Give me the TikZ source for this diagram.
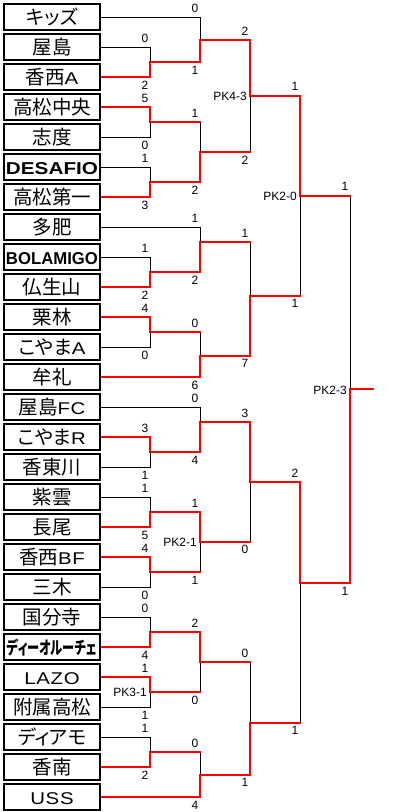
\documentclass[tikz,border=0pt]{standalone}
\usepackage{fontspec}
\usepackage{graphicx}
\setmainfont{Liberation Sans}
\newfontfamily\jp[RawFeature=+palt]{Noto Sans CJK JP}
\newfontfamily\latsp[LetterSpace=4,FakeStretch=1.2]{Liberation Sans}
\newcommand\latn[1]{{\latsp\fontsize{17}{18}\selectfont #1}}
\newcommand\latbold[1]{\resizebox{92pt}{12pt}{\normalfont\bfseries\fontsize{17}{18}\selectfont #1}}
\begin{document}
\begin{tikzpicture}[x=1pt,y=-1pt,
  team/.style={draw=black,line width=1.2pt,fill=white,minimum width=96pt,minimum height=25.5pt,
    inner sep=0pt,text height=17pt,text depth=2.5pt,font=\jp\fontsize{19.5}{20}\selectfont},
  lose/.style={draw=black,line width=1pt},
  win/.style={draw=red,line width=2pt,line cap=rect},
  sc/.style={font=\fontsize{12}{12}\selectfont,inner sep=0pt},
  sct/.style={sc,anchor=south},
  scb/.style={sc,anchor=north},
  pk/.style={sc,anchor=east}]
\useasboundingbox[fill=white] (0,0) rectangle (420,812);
% junctions
\coordinate (a1) at (150,62.25);
\coordinate (a2) at (150,122.25);
\coordinate (a3) at (150,182.25);
\coordinate (a4) at (150,272.25);
\coordinate (a5) at (150,332.25);
\coordinate (a6) at (150,452.25);
\coordinate (a7) at (150,512.25);
\coordinate (a8) at (150,572.25);
\coordinate (a9) at (150,632.25);
\coordinate (a10) at (150,692.25);
\coordinate (a11) at (150,752.25);
\coordinate (b1) at (200,39.75);
\coordinate (b2) at (200,152.25);
\coordinate (b3) at (200,242.25);
\coordinate (b4) at (200,355.5);
\coordinate (b5) at (200,422);
\coordinate (b6) at (200,542);
\coordinate (b7) at (200,662);
\coordinate (b8) at (200,774.75);
\coordinate (c1) at (250,95.5);
\coordinate (c2) at (250,295.5);
\coordinate (c3) at (250,481.7);
\coordinate (c4) at (250,722.7);
\coordinate (d1) at (300,195.5);
\coordinate (d2) at (300,583.3);
\coordinate (e) at (350,389.3);
\coordinate (champ) at (373,389.3);
% team boxes
\path
  (52,17.25) node[team] (t0) {キッズ}
  (52,47.25) node[team] (t1) {屋島}
  (52,77.25) node[team] (t2) {香西\latn{A}}
  (52,107.25) node[team] (t3) {高松中央}
  (52,137.25) node[team] (t4) {志度}
  (52,167.25) node[team] (t5) {\latbold{DESAFIO}}
  (52,197.25) node[team] (t6) {高松第一}
  (52,227.25) node[team] (t7) {多肥}
  (52,257.25) node[team] (t8) {\latbold{BOLAMIGO}}
  (52,287.25) node[team] (t9) {仏生山}
  (52,317.25) node[team] (t10) {栗林}
  (52,347.25) node[team] (t11) {こやま\latn{A}}
  (52,377.25) node[team] (t12) {牟礼}
  (52,407.25) node[team] (t13) {屋島\latn{FC}}
  (52,437.25) node[team] (t14) {こやま\latn{R}}
  (52,467.25) node[team] (t15) {香東川}
  (52,497.25) node[team] (t16) {紫雲}
  (52,527.25) node[team] (t17) {長尾}
  (52,557.25) node[team] (t18) {香西\latn{BF}}
  (52,587.25) node[team] (t19) {三木}
  (52,617.25) node[team] (t20) {国分寺}
  (52,647.25) node[team] (t21) {\resizebox*{90pt}{17.3pt}{\jp\bfseries ディーオルーチェ}}
  (52,677.25) node[team] (t22) {\latn{LAZO}}
  (52,707.25) node[team] (t23) {附属高松}
  (52,737.25) node[team] (t24) {ディアモ}
  (52,767.25) node[team] (t25) {香南}
  (52,797.25) node[team] (t26) {\latn{USS}};
% ---- black (losing) segments
\draw[lose] (t1.east) -| (a1);
\draw[lose] (t4.east) -| (a2);
\draw[lose] (t5.east) -| (a3);
\draw[lose] (t8.east) -| (a4);
\draw[lose] (t11.east) -| (a5);
\draw[lose] (t15.east) -| (a6);
\draw[lose] (t16.east) -| (a7);
\draw[lose] (t19.east) -| (a8);
\draw[lose] (t20.east) -| (a9);
\draw[lose] (t23.east) -| (a10);
\draw[lose] (t24.east) -| (a11);
\draw[lose] (t0.east) -| (b1);
\draw[lose] (a2 -| b2) -- (b2);
\draw[lose] (t7.east) -| (b3);
\draw[lose] (a5 -| b4) -- (b4);
\draw[lose] (t13.east) -| (b5);
\draw[lose] (a8 -| b6) -- (b6);
\draw[lose] (a10 -| b7) -- (b7);
\draw[lose] (a11 -| b8) -- (b8);
\draw[lose] (b2 -| c1) -- (c1);
\draw[lose] (b3 -| c2) -- (c2);
\draw[lose] (b6 -| c3) -- (c3);
\draw[lose] (b7 -| c4) -- (c4);
\draw[lose] (c2 -| d1) -- (d1);
\draw[lose] (c4 -| d2) -- (d2);
\draw[lose] (d1 -| e) -- (e);
% ---- red (winning) segments
\draw[win] (t2.east) -| (a1);
\draw[win] (t3.east) -| (a2);
\draw[win] (t6.east) -| (a3);
\draw[win] (t9.east) -| (a4);
\draw[win] (t10.east) -| (a5);
\draw[win] (t14.east) -| (a6);
\draw[win] (t17.east) -| (a7);
\draw[win] (t18.east) -| (a8);
\draw[win] (t21.east) -| (a9);
\draw[win] (t22.east) -| (a10);
\draw[win] (t25.east) -| (a11);
\draw[win] (a1) -| (b1);
\draw[win] (a2) -- (a2 -| b2);
\draw[win] (a3) -| (b2);
\draw[win] (a4) -| (b3);
\draw[win] (a5) -- (a5 -| b4);
\draw[win] (t12.east) -| (b4);
\draw[win] (a6) -| (b5);
\draw[win] (a7) -| (b6);
\draw[win] (a8) -- (a8 -| b6);
\draw[win] (a9) -| (b7);
\draw[win] (a10) -- (a10 -| b7);
\draw[win] (a11) -- (a11 -| b8);
\draw[win] (t26.east) -| (b8);
\draw[win] (b1) -| (c1);
\draw[win] (b2) -- (b2 -| c1);
\draw[win] (b3) -- (b3 -| c2);
\draw[win] (b4) -| (c2);
\draw[win] (b5) -| (c3);
\draw[win] (b6) -- (b6 -| c3);
\draw[win] (b7) -- (b7 -| c4);
\draw[win] (b8) -| (c4);
\draw[win] (c1) -| (d1);
\draw[win] (c2) -- (c2 -| d1);
\draw[win] (c3) -| (d2);
\draw[win] (c4) -- (c4 -| d2);
\draw[win] (d1) -- (d1 -| e);
\draw[win] (d2) -| (e);
\draw[win] (e) -- (champ);
% redraw box borders over line starts
\foreach \i in {0,...,26} {\draw[black,line width=1.2pt] (t\i.north west) rectangle (t\i.south east);}
% ---- scores
\path[sc]
  (145,42.75) node[sct]{0}  (145,80.75) node[scb]{2}
  (145,102.75) node[sct]{5} (145,140.75) node[scb]{0}
  (145,162.75) node[sct]{1} (145,200.75) node[scb]{3}
  (145,252.75) node[sct]{1} (145,290.75) node[scb]{2}
  (145,312.75) node[sct]{4} (145,350.75) node[scb]{0}
  (145,432.75) node[sct]{3} (145,470.75) node[scb]{1}
  (145,492.75) node[sct]{1} (145,530.75) node[scb]{5}
  (145,552.75) node[sct]{4} (145,590.75) node[scb]{0}
  (145,612.75) node[sct]{0} (145,650.75) node[scb]{4}
  (145,672.75) node[sct]{1} (145,710.75) node[scb]{1}
  (145,732.75) node[sct]{1} (145,770.75) node[scb]{2}
  (195,12.75) node[sct]{0}  (195,65.75) node[scb]{1}
  (195,117.75) node[sct]{1} (195,185.75) node[scb]{2}
  (195,222.75) node[sct]{1} (195,275.75) node[scb]{2}
  (195,327.75) node[sct]{0} (195,381) node[scb]{6}
  (195,402.75) node[sct]{0} (195,455.75) node[scb]{4}
  (195,507.75) node[sct]{1} (195,575.75) node[scb]{1}
  (195,627.75) node[sct]{2} (195,695.75) node[scb]{0}
  (195,747.75) node[sct]{0} (195,800.75) node[scb]{4}
  (245,35.25) node[sct]{2}  (245,155.75) node[scb]{2}
  (245,237.75) node[sct]{1} (245,359) node[scb]{7}
  (245,417.5) node[sct]{3}  (245,545.2) node[scb]{0}
  (245,657.5) node[sct]{0}  (245,778.25) node[scb]{1}
  (295,91) node[sct]{1}     (295,299) node[scb]{1}
  (295,477.2) node[sct]{2}  (295,726.2) node[scb]{1}
  (345,191) node[sct]{1}    (345,586.8) node[scb]{1};
% ---- penalty labels
\node[pk] (pk1) at (147,692.5) {PK3-1};
\node[pk] (pk2) at (197,542.5) {PK2-1};
\node[pk] (pk3) at (247,96) {PK4-3};
\node[pk] (pk4) at (297,196) {PK2-0};
\node[pk] (pk5) at (347,390) {PK2-3};
\end{tikzpicture}
\end{document}
